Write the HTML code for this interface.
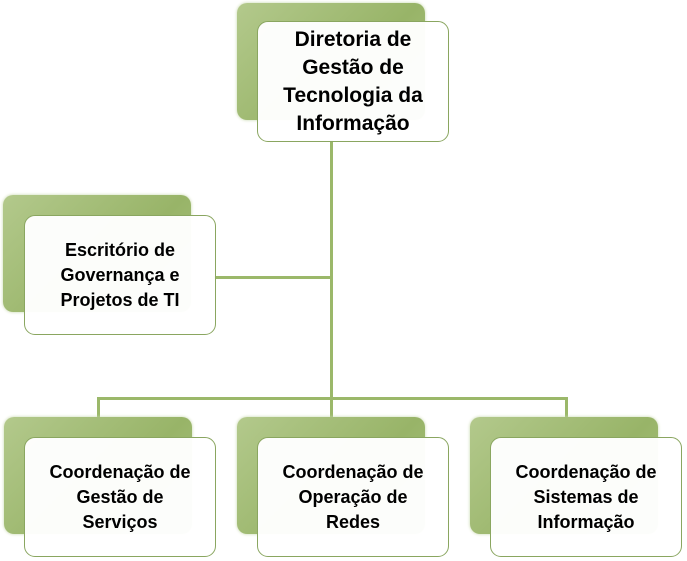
<!DOCTYPE html>
<html><head><meta charset="utf-8"><style>
body{margin:0;width:687px;height:561px;background:#fff;position:relative;overflow:hidden;font-family:"Liberation Sans",sans-serif;}
.g{position:absolute;width:188px;height:117px;border-radius:10px;background:linear-gradient(135deg,#b3c98c,#98b468 60%,#a9c27f);box-shadow:0 0 3px #c5d6a8;}
.w{position:absolute;width:192px;height:120px;border-radius:11px;background:rgba(255,255,255,0.97);border:1px solid #8aa660;box-sizing:border-box;display:flex;align-items:center;justify-content:center;text-align:center;font-weight:bold;color:#000;}
.s{font-size:18px;line-height:25px;}
.t{font-size:21px;line-height:28px;}
.l{position:absolute;background:#9bb86a;}
</style></head><body>
<div class="l" style="left:330px;top:140px;width:3px;height:260px"></div>
<div class="l" style="left:214px;top:276px;width:118px;height:3px"></div>
<div class="l" style="left:97px;top:397px;width:471px;height:3px"></div>
<div class="l" style="left:97px;top:397px;width:3px;height:22px"></div>
<div class="l" style="left:330px;top:397px;width:3px;height:22px"></div>
<div class="l" style="left:565px;top:397px;width:3px;height:22px"></div>

<div class="g" style="left:237px;top:3px"></div>
<div class="w t" style="left:257px;top:21px;height:121px">Diretoria de<br>Gestão de<br>Tecnologia da<br>Informação</div>

<div class="g" style="left:3px;top:195px"></div>
<div class="w s" style="left:24px;top:215px">Escritório de<br>Governança e<br>Projetos de TI</div>

<div class="g" style="left:4px;top:417px"></div>
<div class="w s" style="left:24px;top:437px">Coordenação de<br>Gestão de<br>Serviços</div>

<div class="g" style="left:237px;top:417px"></div>
<div class="w s" style="left:257px;top:437px">Coordenação de<br>Operação de<br>Redes</div>

<div class="g" style="left:470px;top:417px"></div>
<div class="w s" style="left:490px;top:437px">Coordenação de<br>Sistemas de<br>Informação</div>
</body></html>
